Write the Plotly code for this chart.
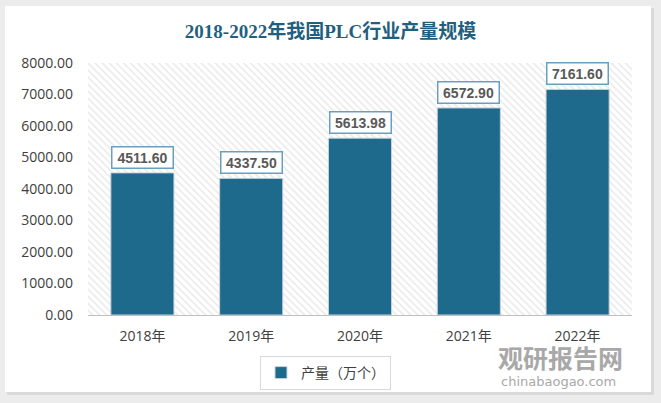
import plotly.graph_objects as go

# ---- data ----
years = ["2018年", "2019年", "2020年", "2021年", "2022年"]
output = [4511.60, 4337.50, 5613.98, 6572.90, 7161.60]
y_ticks = [0, 1000, 2000, 3000, 4000, 5000, 6000, 7000, 8000]
series_name = "产量（万个）"
title_text = "2018-2022年我国PLC行业产量规模"
wm_cn = "观研报告网"
wm_en = "chinabaogao.com"

W, H = 661, 403
L, R, T, B = 88, 29, 63, 88
PW, PH = W - L - R, H - T - B


def px_x(p):
    return (p - L) / PW


def px_y(p):
    return (H - B - p) / PH


BAR = "#1d6a8c"
TXT = "#404040"
SANS = "Open Sans, Noto Sans CJK SC, sans-serif"

fig = go.Figure()

# hatched plot-area background on hidden unit axes
fig.add_trace(go.Scatter(
    x=[0, 1, 1, 0, 0], y=[0, 0, 1, 1, 0], xaxis="x", yaxis="y",
    fill="toself", mode="none", fillcolor="white",
    fillpattern=dict(shape="\\", fgcolor="#d4d4d4", bgcolor="white", size=5, solidity=0.3),
    showlegend=False, hoverinfo="skip"))

fig.add_trace(go.Bar(
    x=years, y=output, xaxis="x2", yaxis="y2", name=series_name, width=0.58,
    marker=dict(color=BAR, line=dict(color="#c9d3d8", width=1))))

annotations = []
for yr, v in zip(years, output):
    annotations.append(dict(
        x=yr, y=v, xref="x2", yref="y2", yanchor="bottom", yshift=4,
        text=f"{v:.2f}", showarrow=False,
        font=dict(family="Liberation Sans, Arial, sans-serif", size=14, color="#595959", weight="bold"),
        bgcolor="white", bordercolor="#6b9fbf", borderwidth=1.5, borderpad=2, width=56))

# watermark
annotations.append(dict(x=px_x(560), y=px_y(357), xref="paper", yref="paper", text=f"<b>{wm_cn}</b>",
                        xanchor="center", yanchor="middle",
                        showarrow=False, font=dict(family="Noto Sans CJK SC", size=25, color="#a8a8a8")))
annotations.append(dict(x=px_x(558), y=px_y(381), xref="paper", yref="paper", text=wm_en,
                        xanchor="center", yanchor="middle",
                        showarrow=False, font=dict(family="DejaVu Sans, sans-serif", size=13, color="#a8a8a8")))

shapes = [
    dict(type="rect", xref="paper", yref="paper", layer="below",
         x0=px_x(7), x1=px_x(654), y0=px_y(395), y1=px_y(8),
         fillcolor="#d9d9d9", line=dict(width=0)),
    dict(type="rect", xref="paper", yref="paper", layer="below",
         x0=px_x(5), x1=px_x(651), y0=px_y(392), y1=px_y(6),
         fillcolor="white", line=dict(width=0)),
]

fig.update_layout(
    width=W, height=H,
    margin=dict(l=L, r=R, t=T, b=B),
    paper_bgcolor="#ececec", plot_bgcolor="rgba(0,0,0,0)",
    title=dict(text=f"<b>{title_text}</b>", x=0.5, xanchor="center", y=1 - 31 / H, yanchor="middle",
               yref="container", xref="container",
               font=dict(family="Liberation Serif, Noto Sans CJK SC, serif", size=19, color="#1f5f80")),
    xaxis=dict(range=[0, 1], visible=False, fixedrange=True),
    yaxis=dict(range=[0, 1], visible=False, fixedrange=True),
    xaxis2=dict(overlaying="x", anchor="y2", type="category", range=[-0.5, 4.5],
                showline=True, linecolor="#bfbfbf", linewidth=1, ticks="", showgrid=False,
                tickfont=dict(family=SANS, size=14, color=TXT), ticklabelstandoff=8),
    yaxis2=dict(overlaying="y", anchor="x2", range=[0, 8000], tickvals=y_ticks,
                ticktext=[f"{t:.2f}" for t in y_ticks], showgrid=False, zeroline=False,
                showline=False, ticks="", tickfont=dict(family=SANS, size=14, color=TXT),
                ticklabelstandoff=14),
    legend=dict(x=px_x(260), y=px_y(356), xanchor="left", yanchor="top", orientation="h",
                bordercolor="#d9d9d9", borderwidth=1, bgcolor="white",
                font=dict(family=SANS, size=14, color=TXT)),
    showlegend=True,
    annotations=annotations,
    shapes=shapes,
)

fig.write_html("out.html")
